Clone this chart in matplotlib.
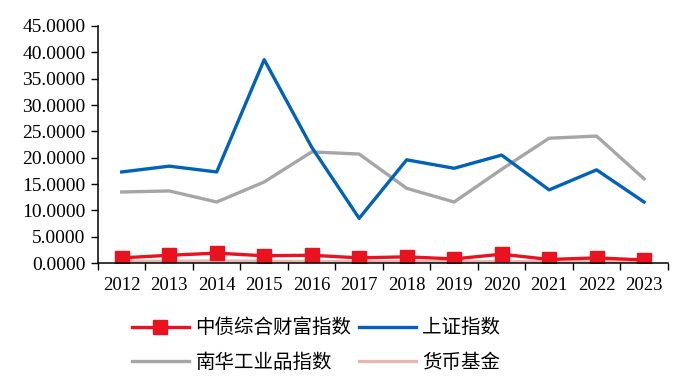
import matplotlib
matplotlib.use("Agg")
import matplotlib.pyplot as plt
import numpy as np

years = ["2012", "2013", "2014", "2015", "2016", "2017",
         "2018", "2019", "2020", "2021", "2022", "2023"]
bond_wealth = [1.0, 1.5, 1.9, 1.4, 1.5, 1.0, 1.2, 0.8, 1.7, 0.7, 1.0, 0.6]
sse_index = [17.3, 18.4, 17.3, 38.6, 22.0, 8.5, 19.6, 18.0, 20.5, 13.9, 17.7, 11.6]
nanhua_ind = [13.5, 13.7, 11.6, 15.4, 21.1, 20.7, 14.2, 11.6, 17.8, 23.7, 24.1, 16.0]
money_fund = [0.35, 0.35, 0.4, 0.35, 0.3, 0.3, 0.3, 0.3, 0.3, 0.25, 0.25, 0.25]
yticks = [0, 5, 10, 15, 20, 25, 30, 35, 40, 45]

cjk = ["Noto Sans CJK SC", "DejaVu Sans"]
serif = "Liberation Serif"

fig = plt.figure(figsize=(7, 3.87), dpi=100)
ax = fig.add_axes([0.14, 0.32, 0.814, 0.613])
x = np.arange(len(years))

l_money, = ax.plot(x, money_fund, color="#E8B4B4", lw=2.4, label="货币基金")
l_nanhua, = ax.plot(x, nanhua_ind, color="#A6A6A6", lw=2.4, label="南华工业品指数")
l_sse, = ax.plot(x, sse_index, color="#0062B8", lw=2.4, label="上证指数")
l_bond, = ax.plot(x, bond_wealth, color="#E8131F", lw=2.4, marker="s",
                  markersize=10, label="中债综合财富指数")

ax.set_xlim(-0.5, len(years) - 0.5)
ax.set_ylim(0, 45)
ax.set_yticks(yticks)
ax.set_yticklabels([f"{v:.4f}" for v in yticks], fontsize=14, family=serif)
ax.set_xticks(x)
ax.set_xticklabels(years, fontsize=13.5, family=serif)
ax.tick_params(axis="x", which="major", length=0, pad=10)
ax.set_xticks(np.arange(-0.5, len(years)), minor=True)
ax.tick_params(axis="x", which="minor", length=5, direction="out", width=1)
ax.tick_params(axis="y", length=5, direction="out", width=1, pad=4)
for s in ["top", "right"]:
    ax.spines[s].set_visible(False)
for s in ["left", "bottom"]:
    ax.spines[s].set_linewidth(1.1)

handles = [l_bond, l_nanhua, l_sse, l_money]
fig.legend(handles, [h.get_label() for h in handles], ncol=2,
           loc="upper left", bbox_to_anchor=(0.164, 0.225), frameon=False,
           prop={"family": cjk, "size": 14}, handlelength=2.9,
           columnspacing=0.4, labelspacing=0.7, handletextpad=0.35)

fig.savefig("out.png", dpi=100)
